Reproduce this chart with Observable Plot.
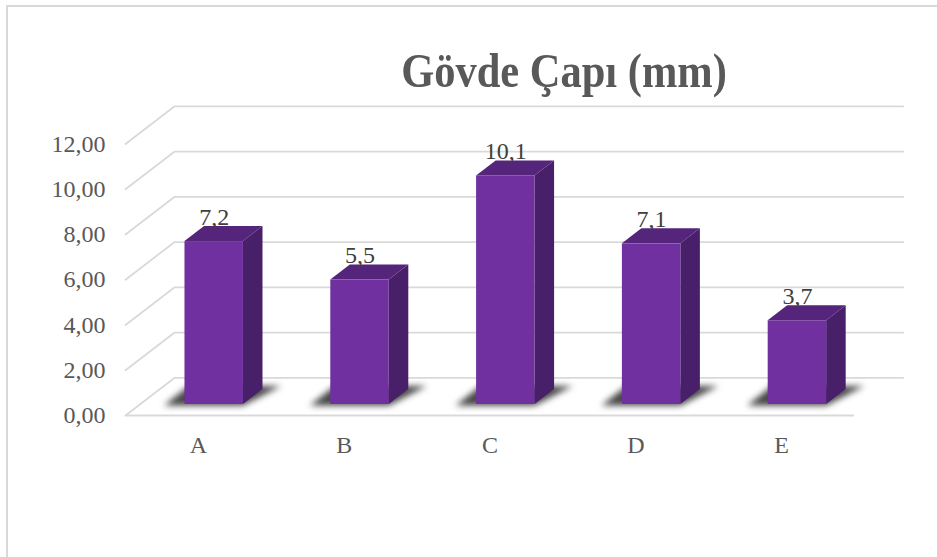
<!DOCTYPE html>
<html lang="tr">
<head>
<meta charset="utf-8">
<title>Gövde Çapı (mm)</title>
<script src="https://cdn.jsdelivr.net/npm/d3@7"></script>
<script src="https://cdn.jsdelivr.net/npm/@observablehq/plot@0.6"></script>
<style>
  html, body { margin: 0; padding: 0; background: #fff; }
  #chart { position: relative; width: 937px; height: 557px; overflow: hidden; font-family: "Liberation Serif", "Times New Roman", serif; }
  #frame { position: absolute; left: 6px; top: 5px; right: -4px; bottom: -4px; border: 2px solid #d9d9d9; }
  #chart svg { position: absolute; left: 0; top: 0; overflow: visible; background: transparent; }
  #heading { position: absolute; left: 264px; width: 600px; top: 43px; margin: 0; text-align: center; font-size: 48px; line-height: 56px; font-weight: bold; color: #595959; z-index: 2; transform: scaleX(0.885); }
</style>
</head>
<body>
<div id="chart">
  <div id="frame"></div>
  <h1 id="heading">Gövde Çapı (mm)</h1>
</div>
<script>
// Stem diameter per group
const categories = ["A", "B", "C", "D", "E"];
const values = [7.2, 5.5, 10.1, 7.1, 3.7];
const yTicks = [0, 2, 4, 6, 8, 10, 12];

// Oblique projection, in axis units: category slots along x, millimetres along y
const wallDx = 0.335, wallDy = 1.66;   // depth of the floor and back wall
const barLeft = 0.408, barWidth = 0.401; // front face within its slot
const barDx = 0.134, barDy = 0.664;    // depth of a bar
const baseY = 0.487;                   // bars stand part way back on the floor

const comma = (d, digits) => d.toFixed(digits).replace(".", ",");

// Area rows for a four-sided shape with a horizontal lower and upper edge
const quad = (id, xa, xb, xc, xd, y0, y1) => [
  {id, x: xa, y1: y0, y2: y0},
  {id, x: xb, y1: y0, y2: y1},
  {id, x: xc, y1: y0, y2: y1},
  {id, x: xd, y1: y1, y2: y1}
];

const bars = values.map((v, i) => ({
  name: categories[i], value: v,
  x0: i + barLeft, x1: i + barLeft + barWidth, top: baseY + v
}));

const gridLines = yTicks.flatMap((t) => [
  {t, x: 0, y: t},
  {t, x: wallDx, y: t + wallDy},
  {t, x: 5 + wallDx, y: t + wallDy}
]);

// Cast shadow on the floor, wider behind the bar than in front of it
const shadows = bars.flatMap((b) =>
  quad(b.name, b.x0 - 0.14, b.x0 + 0.03, b.x1, b.x1 + 0.26, baseY - 0.07, baseY + 0.8));
const topFaces = bars.flatMap((b) =>
  quad(b.name, b.x0, b.x0 + barDx, b.x1, b.x1 + barDx, b.top, b.top + barDy));
const sideFaces = bars.flatMap((b) => [
  {id: b.name, x: b.x1, y1: baseY, y2: b.top},
  {id: b.name, x: b.x1 + barDx, y1: baseY + barDy, y2: b.top + barDy}
]);

const chart = Plot.plot({
  width: 937,
  height: 557,
  marginLeft: 125,
  marginRight: 83,
  marginTop: 143.5,
  marginBottom: 142,
  style: {fontFamily: '"Liberation Serif", "Times New Roman", serif', background: "transparent"},
  x: {domain: [0, 5]},
  y: {domain: [0, 12]},
  marks: [
    Plot.line(gridLines, {x: "x", y: "y", z: "t", stroke: "#d9d9d9", strokeWidth: 1.8}),
    Plot.ruleY([0], {x1: 0, x2: 5, stroke: "#d9d9d9", strokeWidth: 1.8}),
    Plot.area(shadows, {x1: "x", y1: "y1", y2: "y2", z: "id", fill: "#262626", fillOpacity: 0.85, imageFilter: "blur(3px)"}),
    Plot.area(sideFaces, {x1: "x", y1: "y1", y2: "y2", z: "id", fill: "#481f69"}),
    Plot.area(topFaces, {x1: "x", y1: "y1", y2: "y2", z: "id", fill: "#54257b"}),
    Plot.rect(bars, {x1: "x0", x2: "x1", y1: baseY, y2: "top", fill: "#7030a0"}),
    Plot.axisY({
      ticks: yTicks, tickSize: 0, tickPadding: 20, label: null,
      tickFormat: (d) => comma(d, 2), fontSize: 24, color: "#595959"
    }),
    Plot.axisX({
      ticks: categories.map((_, i) => i + 0.5), tickSize: 0, tickPadding: 20, label: null,
      tickFormat: (d) => categories[d - 0.5], fontSize: 24, color: "#595959"
    }),
    Plot.text(bars, {
      x: (b) => (b.x0 + b.x1) / 2, y: (b) => b.top + barDy,
      text: (b) => comma(b.value, 1), lineAnchor: "bottom", dy: -2,
      fontSize: 24, fill: "#404040"
    })
  ]
});
document.getElementById("chart").appendChild(chart);
</script>
</body>
</html>
